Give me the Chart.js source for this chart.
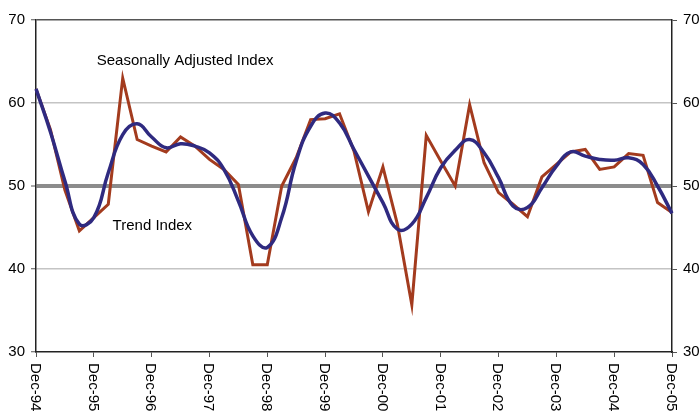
<!DOCTYPE html>
<html>
<head>
<meta charset="utf-8">
<script src="https://cdn.jsdelivr.net/npm/chart.js@4.4.0/dist/chart.umd.min.js"></script>
<style>
  html, body { margin: 0; padding: 0; background: #fff; }
  #wrap { width: 700px; height: 411px; position: relative; }
</style>
</head>
<body>
<div id="wrap"><canvas id="myChart" width="700" height="411"></canvas></div>
<script>
// quarterly periods, Dec-94 .. Dec-05
var quarters = ["Dec-94", "Mar-95", "Jun-95", "Sep-95", "Dec-95", "Mar-96", "Jun-96", "Sep-96",
    "Dec-96", "Mar-97", "Jun-97", "Sep-97", "Dec-97", "Mar-98", "Jun-98", "Sep-98",
    "Dec-98", "Mar-99", "Jun-99", "Sep-99", "Dec-99", "Mar-00", "Jun-00", "Sep-00",
    "Dec-00", "Mar-01", "Jun-01", "Sep-01", "Dec-01", "Mar-02", "Jun-02", "Sep-02",
    "Dec-02", "Mar-03", "Jun-03", "Sep-03", "Dec-03", "Mar-04", "Jun-04", "Sep-04",
    "Dec-04", "Mar-05", "Jun-05", "Sep-05", "Dec-05"];

var seasonallyAdjusted = [61.7, 56.8, 49.5, 44.6, 46.2, 47.8, 63.0, 55.6, 54.8, 54.1,
    55.9, 54.8, 53.2, 52.0, 50.2, 40.5, 40.5, 50.0, 53.4, 58.0,
    58.1, 58.7, 54.2, 46.9, 52.3, 45.4, 35.7, 56.1, 53.0, 50.0,
    59.8, 52.8, 49.2, 47.8, 46.3, 51.1, 52.6, 54.1, 54.4, 52.0,
    52.3, 53.9, 53.7, 48.0, 46.8];

var trend = [61.7, 56.5, 50.6, 45.4, 46.2, 51.6, 56.2, 57.5, 55.9, 54.6,
    55.1, 54.8, 54.0, 52.0, 48.2, 44.0, 42.6, 46.2, 53.0, 57.2,
    58.8, 57.6, 54.4, 51.2, 48.0, 44.8, 45.4, 48.6, 52.2, 54.3,
    55.6, 54.0, 51.0, 47.6, 47.4, 49.8, 52.4, 54.1, 53.6, 53.2,
    53.1, 53.4, 52.6, 50.0, 46.7];

var yTicks = [30, 40, 50, 60, 70];

var FONT = "'Liberation Sans', Arial, sans-serif";

// only the December quarters get a label and a tick mark
function isDec(i) { return quarters[i].indexOf("Dec") === 0; }

var gridColor = function(c) {
    var v = c.tick.value;
    if (v === 50) return '#8c8c8c';
    if (v === 70) return '#555555';
    if (v === 30) return 'rgba(0,0,0,0)';
    return '#c4c4c4';
};
var gridWidth = function(c) {
    var v = c.tick.value;
    if (v === 50) return 4;
    return 1.5;
};

// rotated (clockwise) december labels and the two series captions
var textPlugin = {
    id: 'textPlugin',
    afterDraw: function(chart) {
        var ctx = chart.ctx;
        var xs = chart.scales.x, ys = chart.scales.y;
        ctx.save();
        ctx.fillStyle = '#000';
        ctx.font = '15px ' + FONT;
        for (var i = 0; i < quarters.length; i++) {
            if (!isDec(i)) continue;
            var px = xs.getPixelForValue(i);
            ctx.save();
            ctx.translate(px - 1, chart.chartArea.bottom + 11);
            ctx.rotate(Math.PI / 2);
            ctx.textAlign = 'left';
            ctx.textBaseline = 'middle';
            ctx.fillText(quarters[i], 0, 0);
            ctx.restore();
        }
        ctx.font = '15px ' + FONT;
        ctx.textAlign = 'left';
        ctx.textBaseline = 'middle';
        ctx.fillText('Seasonally Adjusted Index', xs.getPixelForValue(4.2), ys.getPixelForValue(65.1));
        ctx.fillText('Trend Index', xs.getPixelForValue(5.3), ys.getPixelForValue(45.2));
        ctx.restore();
    }
};

var ctx = document.getElementById('myChart').getContext('2d');
var chart = new Chart(ctx, {
    type: 'line',
    data: {
        labels: quarters,
        datasets: [{
            label: "Trend Index",
            data: trend,
            borderColor: '#2f2a80',
            borderWidth: 3.5,
            pointRadius: 0,
            tension: 0.45,
            fill: false,
            order: 1
        }, {
            label: "Seasonally Adjusted Index",
            data: seasonallyAdjusted,
            borderColor: '#a33b1e',
            borderWidth: 3,
            pointRadius: 0,
            tension: 0,
            fill: false,
            order: 2
        }]
    },
    options: {
        responsive: false,
        animation: false,
        events: [],
        layout: { padding: { top: 20, left: 0, right: 0, bottom: 0 } },
        plugins: {
            legend: { display: false },
            tooltip: { enabled: false }
        },
        scales: {
            x: {
                type: 'category',
                offset: false,
                border: { display: true, color: '#222', width: 1.5 },
                grid: {
                    drawOnChartArea: false,
                    drawTicks: true,
                    tickLength: 5,
                    tickWidth: 1,
                    color: function(c) { return isDec(c.index) ? '#555' : 'rgba(0,0,0,0)'; }
                },
                ticks: { display: false, autoSkip: false },
                afterFit: function(s) { s.height = 59; }
            },
            y: {
                position: 'left',
                min: 30, max: 70,
                afterBuildTicks: function(s) { s.ticks = yTicks.map(function(v) { return { value: v }; }); },
                border: { display: true, color: '#222', width: 1.5 },
                grid: {
                    color: gridColor,
                    lineWidth: gridWidth,
                    tickColor: '#555',
                    tickWidth: 1,
                    tickLength: 5
                },
                ticks: { color: '#000', padding: 6, font: { size: 15, family: FONT } },
                afterFit: function(s) { s.width = 36; }
            },
            y2: {
                position: 'right',
                min: 30, max: 70,
                afterBuildTicks: function(s) { s.ticks = yTicks.map(function(v) { return { value: v }; }); },
                border: { display: true, color: '#222', width: 1.5 },
                grid: {
                    drawOnChartArea: false,
                    tickColor: '#555',
                    tickWidth: 1,
                    tickLength: 5
                },
                ticks: { color: '#000', padding: 6, font: { size: 15, family: FONT } },
                afterFit: function(s) { s.width = 28; }
            }
        }
    },
    plugins: [textPlugin]
});
</script>
</body>
</html>
